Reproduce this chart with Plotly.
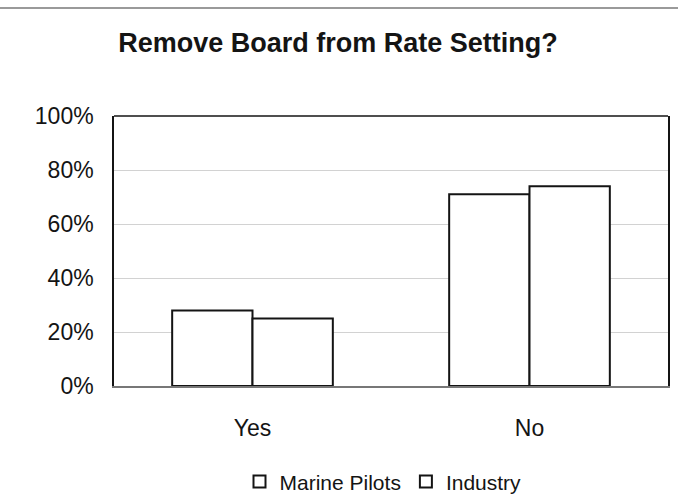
import plotly.graph_objects as go

categories = ["Yes", "No"]
marine_pilots = [28, 71]
industry = [25, 74]
y_ticks = [0, 20, 40, 60, 80, 100]
y_tick_labels = ["0%", "20%", "40%", "60%", "80%", "100%"]

FONT = "Liberation Sans, Arial, sans-serif"
INK = "#141414"

fig = go.Figure()
fig.add_trace(go.Bar(
    name="Marine Pilots", x=categories, y=marine_pilots,
    marker=dict(color="white", line=dict(color=INK, width=2)),
))
fig.add_trace(go.Bar(
    name="Industry", x=categories, y=industry,
    marker=dict(color="white", line=dict(color=INK, width=2)),
))

fig.update_layout(
    width=678, height=503,
    paper_bgcolor="white", plot_bgcolor="white",
    margin=dict(l=114, r=10, t=116, b=117, autoexpand=False),
    barmode="group", bargap=0.42, bargroupgap=0,
    font=dict(family=FONT, color=INK, size=22),
    title=dict(
        text="<b>Remove Board from Rate Setting?</b>",
        font=dict(family=FONT, size=27, color=INK),
        xref="container", x=338 / 678, xanchor="center",
        yref="container", y=1 - 43 / 503, yanchor="middle",
    ),
    legend=dict(
        orientation="h", x=0.5 - 8 / 554, xanchor="center", y=-0.355, yanchor="middle",
        font=dict(family=FONT, size=21, color=INK),
        itemwidth=30, traceorder="normal",
    ),
    showlegend=True,
    shapes=[
        dict(type="line", xref="paper", yref="paper",
             x0=-114 / 554, x1=1 + 10 / 554, y0=1 + 108 / 270, y1=1 + 108 / 270,
             line=dict(color="#9a9a9a", width=2)),
        dict(type="line", xref="paper", yref="paper",
             x0=0, x1=1, y0=1, y1=1, line=dict(color=INK, width=1.5)),
    ],
)

fig.update_yaxes(
    range=[0, 100], tickvals=y_ticks, ticktext=y_tick_labels,
    showgrid=True, gridcolor="#d2d2d2", gridwidth=1,
    showline=True, linecolor=INK, linewidth=1.5, mirror=True,
    ticks="", ticklabelstandoff=14, zeroline=False, automargin=False,
    tickfont=dict(size=23),
)
fig.update_xaxes(
    showline=True, linecolor="#777777", linewidth=1.5, mirror=False,
    ticks="", ticklabelstandoff=21, tickfont=dict(size=23), automargin=False,
)

fig.write_html("out.html", config={"displayModeBar": False},
               post_script="document.body.style.margin='0px';")
